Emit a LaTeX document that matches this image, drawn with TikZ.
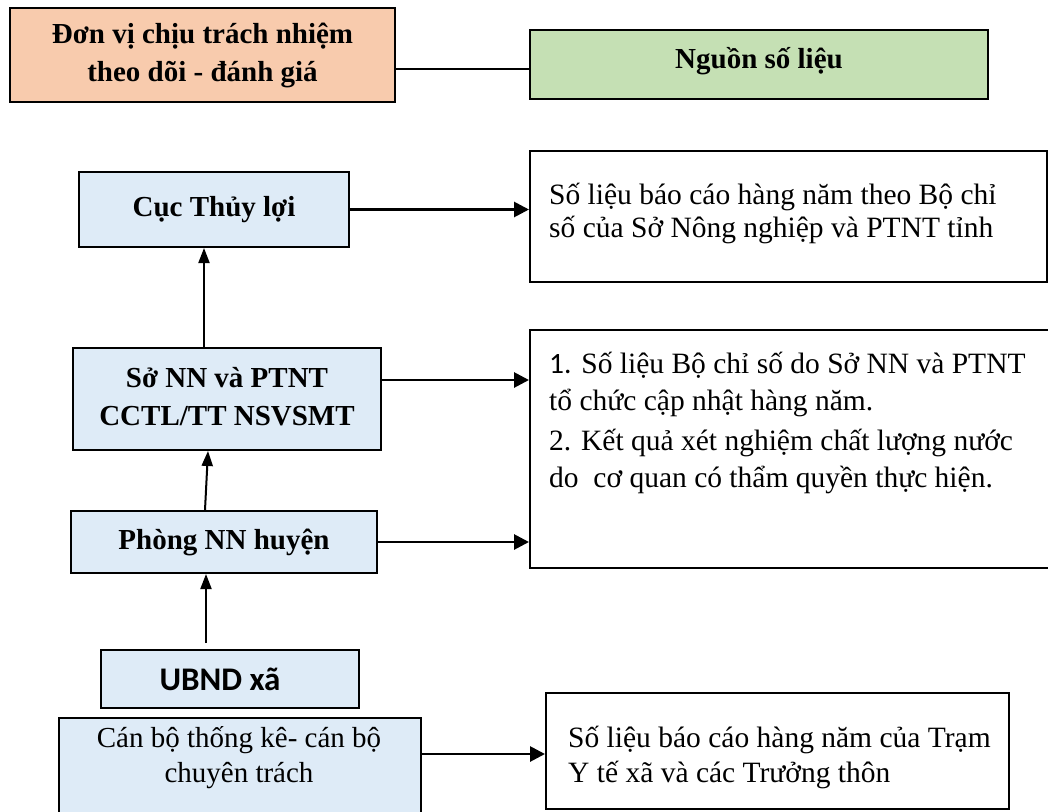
\documentclass[tikz,border=0pt]{standalone}
\usepackage{fontspec}
\setmainfont{Liberation Serif}
\newfontfamily\calfont{Carlito}
\usetikzlibrary{arrows.meta,calc}
\definecolor{orangefill}{HTML}{F8CBAD}
\definecolor{greenfill}{HTML}{C5E0B4}
\definecolor{bluefill}{HTML}{DEEBF7}
\begin{document}
\begin{tikzpicture}[x=1pt,y=-1pt,
  box/.style={draw=black, line width=2pt, anchor=north west, inner sep=0pt, align=center},
  boldtext/.style={font=\fontsize{29}{38}\selectfont\bfseries},
  plaintext/.style={font=\fontsize{29}{35}\selectfont},
  bodytext/.style={anchor=base west, inner sep=0pt, align=left},
  harr/.style={line width=2.8pt, -{Triangle[length=15pt,width=15pt]}},
  varr/.style={line width=2pt, -{Triangle[length=15pt,width=11pt]}},
  thinline/.style={line width=2pt}]
\useasboundingbox[fill=white] (0,0) rectangle (1048,811);

% header boxes
\node[box, boldtext, fill=orangefill, minimum width=385pt, minimum height=94pt] (unit) at (9,7)
  {\rule{0pt}{14pt}Đơn vị chịu trách nhiệm\\theo dõi - đánh giá};
\node[box, boldtext, fill=greenfill, minimum width=458pt, minimum height=69pt] (src) at (529,29)
  {Nguồn số liệu\rule[-14pt]{0pt}{14pt}};

% left column
\node[box, boldtext, fill=bluefill, minimum width=270pt, minimum height=75pt] (cuc) at (78,171) {Cục Thủy lợi};
\node[box, boldtext, fill=bluefill, minimum width=308pt, minimum height=102pt] (so) at (72,347) {Sở NN và PTNT\\CCTL/TT NSVSMT\rule[-6pt]{0pt}{6pt}};
\node[box, boldtext, fill=bluefill, minimum width=306pt, minimum height=62pt] (phong) at (70,510) {Phòng NN huyện};
\node[box, font=\calfont\fontsize{33}{38}\selectfont\bfseries, fill=bluefill, minimum width=258pt, minimum height=58pt] (ubnd) at (100,649) {UBND xã\hspace*{20pt}};
\node[box, fill=bluefill, minimum width=362pt, minimum height=110pt] (canbo) at (58,717) {};
\node[plaintext, inner sep=0pt, align=center, anchor=base] (canbot) at (239,782) {Cán bộ thống kê- cán bộ\\chuyên trách};

% right column
\node[box, fill=white, minimum width=517pt, minimum height=131pt] (r1) at (529,150) {};
\node[box, fill=white, minimum width=530pt, minimum height=238pt] (r2) at (529,329) {};
\node[box, fill=white, minimum width=463pt, minimum height=116pt] (r3) at (545,692) {};

\node[bodytext, font=\fontsize{29.5}{33}\selectfont] (r1t) at (549,237)
  {Số liệu báo cáo hàng năm theo Bộ chỉ\\số của Sở Nông nghiệp và PTNT tỉnh};
\node[bodytext, font=\fontsize{29.5}{37}\selectfont] (r2t) at (549,487)
  {{\calfont 1.} Số liệu Bộ chỉ số do Sở NN và PTNT\\tổ chức cập nhật hàng năm.\\[3pt]2. Kết quả xét nghiệm chất lượng nước\\do\ \ cơ quan có thẩm quyền thực hiện.};
\node[bodytext, font=\fontsize{29.5}{35}\selectfont] (r3t) at (568,782)
  {Số liệu báo cáo hàng năm của Trạm\\Y tế xã và các Trưởng thôn};

% header connector
\coordinate (tl) at ([yshift=-4pt]src.west);
\draw[thinline] (tl -| unit.east) -- (tl);

% horizontal arrows
\draw[harr] (cuc.east) -- (cuc.east -| r1.west);
\coordinate (soa) at ([yshift=19pt]so.east);
\draw[harr] (soa) -- (soa -| r2.west);
\draw[harr] (phong.east) -- (phong.east -| r2.west);
\coordinate (cba) at ([yshift=-37pt]canbo.north east);
\draw[harr] (cba) -- (cba -| r3.west);

% vertical arrows
\coordinate (xa) at (204,0);
\coordinate (xb) at (205,0);
\coordinate (xc) at (208,0);
\coordinate (xd) at (206,0);
\draw[varr] (so.north -| xa) -- (cuc.south -| xa);
\draw[varr] (phong.north -| xb) -- (so.south -| xc);
\coordinate (ua) at ($(ubnd.north -| xd)+(0,-6)$);
\draw[varr] (ua) -- (phong.south -| xd);
\end{tikzpicture}
\end{document}
